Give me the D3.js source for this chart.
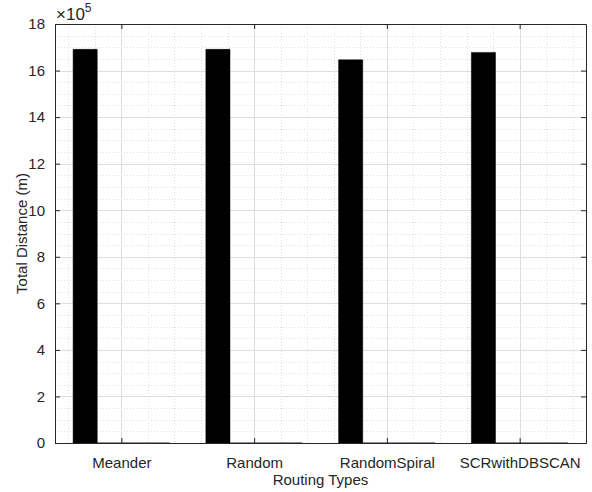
<!DOCTYPE html>
<html>
<head>
<meta charset="utf-8">
<script src="https://cdn.jsdelivr.net/npm/d3@7"></script>
<style>
  body { margin: 0; background: #fff; }
  svg { display: block; font-family: "Liberation Sans", Arial, Helvetica, sans-serif; }
</style>
</head>
<body>
<svg class="chart"></svg>
<script>
// data
const categories = ["Meander", "Random", "RandomSpiral", "SCRwithDBSCAN"]
const series1 = [1691000, 1691000, 1646000, 1678000]
const series2 = [0, 0, 0, 0]
const series3 = [0, 0, 0, 0]
const series4 = [0, 0, 0, 0]
const yTicks = [0, 2, 4, 6, 8, 10, 12, 14, 16, 18] // x 10^5
const yMinorTicks = d3.range(0, 18.01, 0.5)
const xMinorTicks = d3.range(0.6, 4.45, 0.2)

const allSeries = [series1, series2, series3, series4]

const width = 592
const height = 492
const margin = { left: 55, top: 24, right: 6, bottom: 49 }
const innerW = width - margin.left - margin.right
const innerH = height - margin.top - margin.bottom
const axisColor = "#262626"
const gridColor = "#dedede"

const svg = d3.select("svg.chart")
        .attr("width", width)
        .attr("height", height)

const xScale = d3.scaleLinear()
    .domain([0.5, categories.length + 0.5])
    .range([0, innerW])

const yScale = d3.scaleLinear()
    .domain([0, 18e5])
    .range([innerH, 0])

const g = svg.append("g")
        .attr("transform", "translate(" + margin.left + "," + margin.top + ")")

// grid: minor (dotted) first, then major
g.append("g")
    .selectAll("line")
    .data(yMinorTicks.filter(t => Math.abs(t % 2) > 1e-6))
    .enter()
    .append("line")
    .attr("x1", 0).attr("x2", innerW)
    .attr("y1", d => Math.round(yScale(d * 1e5)) + 0.5)
    .attr("y2", d => Math.round(yScale(d * 1e5)) + 0.5)
    .style("stroke", gridColor)
    .style("stroke-dasharray", "1,2")

g.append("g")
    .selectAll("line")
    .data(xMinorTicks.filter(t => Math.abs(t - Math.round(t)) > 1e-6))
    .enter()
    .append("line")
    .attr("y1", 0).attr("y2", innerH)
    .attr("x1", d => Math.round(xScale(d)) + 0.5)
    .attr("x2", d => Math.round(xScale(d)) + 0.5)
    .style("stroke", gridColor)
    .style("stroke-dasharray", "1,2")

g.append("g")
    .selectAll("line")
    .data(yTicks)
    .enter()
    .append("line")
    .attr("x1", 0).attr("x2", innerW)
    .attr("y1", d => Math.round(yScale(d * 1e5)) + 0.5)
    .attr("y2", d => Math.round(yScale(d * 1e5)) + 0.5)
    .style("stroke", gridColor)

g.append("g")
    .selectAll("line")
    .data(categories)
    .enter()
    .append("line")
    .attr("y1", 0).attr("y2", innerH)
    .attr("x1", (d, i) => Math.round(xScale(i + 1)) + 0.5)
    .attr("x2", (d, i) => Math.round(xScale(i + 1)) + 0.5)
    .style("stroke", gridColor)

// grouped bars (MATLAB-style layout)
const n = allSeries.length
const groupWidth = Math.min(0.8, n / (n + 1.5))
const slot = groupWidth / n

allSeries.forEach((values, s) => {
    g.append("g")
        .selectAll("path")
        .data(values)
        .enter()
        .append("path")
        .attr("d", (v, i) => {
            const x0 = xScale(i + 1 - groupWidth / 2 + s * slot)
            const x1 = xScale(i + 1 - groupWidth / 2 + (s + 1) * slot)
            const y0 = yScale(0)
            const y1 = yScale(v)
            return "M" + x0 + "," + y0 + "H" + x1 + "V" + y1 + "H" + x0 + "Z"
        })
        .style("fill", "#000")
        .style("stroke", "#000")
        .style("stroke-width", 0.5)
})

// axes
const xAxis = d3.axisBottom(xScale)
    .tickValues(d3.range(1, categories.length + 1))
    .tickFormat(d => categories[d - 1])
    .tickSizeInner(-5)
    .tickSizeOuter(0)
    .tickPadding(14)

const yAxis = d3.axisLeft(yScale)
    .tickValues(yTicks.map(t => t * 1e5))
    .tickFormat(d => d / 1e5)
    .tickSizeInner(-5)
    .tickSizeOuter(0)
    .tickPadding(10)

const xg = g.append("g")
    .attr("transform", "translate(0," + innerH + ")")
    .call(xAxis)
const yg = g.append("g")
    .call(yAxis)

g.append("g")
    .call(d3.axisTop(xScale).tickValues(d3.range(1, categories.length + 1)).tickFormat("").tickSizeInner(-5).tickSizeOuter(0))
g.append("g")
    .attr("transform", "translate(" + innerW + ",0)")
    .call(d3.axisRight(yScale).tickValues(yTicks.map(t => t * 1e5)).tickFormat("").tickSizeInner(-5).tickSizeOuter(0))

g.selectAll(".domain, .tick line")
    .style("stroke", axisColor)
    .style("stroke-width", 1)
g.selectAll(".tick text")
    .style("fill", axisColor)
    .style("font-size", "15px")
    .style("font-family", "'Liberation Sans', Arial, sans-serif")

// exponent label
const expo = svg.append("text")
    .attr("x", 56)
    .attr("y", 20)
    .style("fill", axisColor)
    .style("font-size", "17px")
expo.append("tspan").text("\u00d710")
expo.append("tspan").attr("dy", -8).style("font-size", "12px").text("5")

// axis titles
svg.append("text")
    .attr("x", margin.left + innerW / 2)
    .attr("y", 485)
    .attr("text-anchor", "middle")
    .style("fill", axisColor)
    .style("font-size", "15px")
    .text("Routing Types")

svg.append("text")
    .attr("text-anchor", "middle")
    .attr("transform", "translate(27," + (margin.top + innerH / 2) + ")rotate(-90)")
    .style("fill", axisColor)
    .style("font-size", "15px")
    .text("Total Distance (m)")
</script>
</body>
</html>
